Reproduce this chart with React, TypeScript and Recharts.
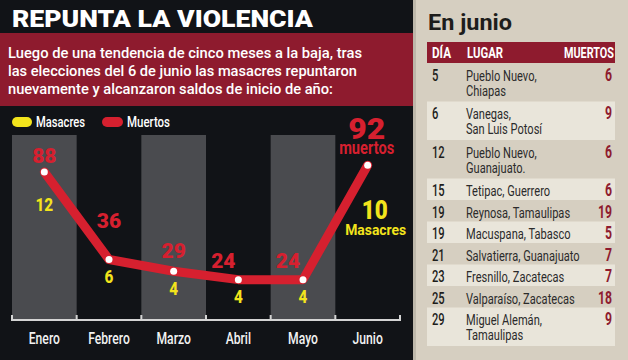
import React from 'react';
import { ComposedChart, Line, XAxis, YAxis, LabelList, ReferenceArea } from 'recharts';

// ---------- data ----------
const months = ['Enero', 'Febrero', 'Marzo', 'Abril', 'Mayo', 'Junio'];
const muertos = [88, 36, 29, 24, 24, 92];
const masacres = [12, 6, 4, 4, 4, 10];
const shadedMonths = ['Enero', 'Marzo', 'Mayo'];
const seriesNames = ['Masacres', 'Muertos'];

const title = 'REPUNTA LA VIOLENCIA';
const introLines = [
  'Luego de una tendencia de cinco meses a la baja, tras',
  'las elecciones del 6 de junio las masacres repuntaron',
  'nuevamente y alcanzaron saldos de inicio de año:',
];

const tableTitle = 'En junio';
const tableHeaders = ['DÍA', 'LUGAR', 'MUERTOS'];
const days = [5, 6, 12, 15, 19, 19, 21, 23, 25, 29];
const places = [
  ['Pueblo Nuevo,', 'Chiapas'],
  ['Vanegas,', 'San Luis Potosí'],
  ['Pueblo Nuevo,', 'Guanajuato.'],
  ['Tetipac, Guerrero'],
  ['Reynosa, Tamaulipas'],
  ['Macuspana, Tabasco'],
  ['Salvatierra, Guanajuato'],
  ['Fresnillo, Zacatecas'],
  ['Valparaíso, Zacatecas'],
  ['Miguel Alemán,', 'Tamaulipas'],
];
const deaths = [6, 9, 6, 6, 19, 5, 7, 7, 18, 9];

const data = months.map((m, i) => ({ month: m, muertos: muertos[i], masacres: masacres[i] }));

// ---------- style / layout ----------
const FONT = 'Roboto, "Open Sans", sans-serif';
const RED = '#d6202f';
const YELLOW = '#f3e41c';
const DARK = '#111317';
const WINE = '#8e1b2e';
const BEIGE = '#d6cfc1';
const LIGHT_ROW = '#e9e5da';

const redDx = [0, 0, 0, -15, -15];
const redDy = [-9, -31, -13, -12, -12];
const yellowDy = [39, 24, 24, 23, 23];

function T({ x, y, sx = 1, anchor = 'start', size = 14, weight = 400, fill = '#fff', children }: any) {
  return (
    <text
      transform={`translate(${x} ${y}) scale(${sx} 1)`}
      textAnchor={anchor}
      fontSize={size}
      fontWeight={weight}
      fill={fill}
      fontFamily={FONT}
    >
      {children}
    </text>
  );
}

function MonthTick(props: any) {
  const { x, y, payload, index } = props;
  const off = payload && payload.offset ? payload.offset : 388 / 12;
  const last = index === months.length - 1;
  return (
    <g>
      <line x1={x - off} x2={x - off} y1={y - 5} y2={y + 1} stroke="#d4d4d4" strokeWidth={2} />
      {last && <line x1={x + off} x2={x + off} y1={y - 5} y2={y + 1} stroke="#d4d4d4" strokeWidth={2} />}
      <T x={x} y={y + 24} sx={0.76} anchor="middle" size={16} weight={500} fill="#f2f2f2">
        {payload.value}
      </T>
    </g>
  );
}

function RedLabel(props: any) {
  const { x, y, value, index } = props;
  if (index === months.length - 1) {
    return (
      <g>
        <text x={x - 1} y={y - 26} textAnchor="middle" fontSize={29} fontWeight={900} fill={RED} fontFamily={FONT} textLength={37} lengthAdjust="spacingAndGlyphs">
          {value}
        </text>
        <text x={x - 1} y={y - 11} textAnchor="middle" fontSize={18} fontWeight={700} fill={RED} fontFamily={FONT} textLength={55} lengthAdjust="spacingAndGlyphs">
          muertos
        </text>
      </g>
    );
  }
  return (
    <text x={x + redDx[index]} y={y + redDy[index]} textAnchor="middle" fontSize={21} fontWeight={900} fill={RED} fontFamily={FONT}>
      {value}
    </text>
  );
}

function YellowLabel(props: any) {
  const { x, y, value, index } = props;
  if (index === months.length - 1) {
    return (
      <g>
        <text x={x + 7} y={y + 54} textAnchor="middle" fontSize={26} fontWeight={900} fill={YELLOW} fontFamily={FONT} textLength={26} lengthAdjust="spacingAndGlyphs">
          {value}
        </text>
        <text x={x + 8} y={y + 70} textAnchor="middle" fontSize={15} fontWeight={700} fill={YELLOW} fontFamily={FONT} textLength={61} lengthAdjust="spacingAndGlyphs">
          Masacres
        </text>
      </g>
    );
  }
  return (
    <T x={x} y={y + yellowDy[index]} sx={0.85} anchor="middle" size={18} weight={800} fill={YELLOW}>
      {value}
    </T>
  );
}

function Background() {
  let top = 63;
  const rows = days.map((d, i) => {
    const lines = places[i];
    const h = lines.length === 2 ? 38.5 : 21.5;
    const y0 = top;
    top += h;
    return (
      <g key={i}>
        {i % 2 === 1 && <rect x={427} y={y0} width={188} height={h} fill={LIGHT_ROW} />}
        <T x={432} y={y0 + 17.5} sx={0.7} size={16} weight={500} fill="#1d1d1b">
          {d}
        </T>
        {lines.map((l, k) => (
          <T key={k} x={466} y={y0 + 17.5 + k * 15} sx={0.74} size={15} weight={400} fill="#2b2b2b">
            {l}
          </T>
        ))}
        <T x={612} y={y0 + 17.5} sx={0.7} anchor="end" size={17.5} weight={700} fill={WINE}>
          {deaths[i]}
        </T>
      </g>
    );
  });

  return (
    <svg width={628} height={360} style={{ position: 'absolute', left: 0, top: 0 }}>
      <rect x={0} y={0} width={628} height={360} fill={BEIGE} />
      <rect x={0} y={0} width={413} height={360} fill={DARK} />
      <rect x={413} y={0} width={3} height={360} fill="#bdb7aa" />
      <rect x={0} y={33} width={413} height={73} fill={WINE} />
      <text x={12} y={27} fontSize={24} fontWeight={900} fill="#fff" fontFamily={FONT} textLength={301} lengthAdjust="spacingAndGlyphs">
        {title}
      </text>
      {introLines.map((l, i) => (
        <text key={i} x={8} y={58 + i * 18} fontSize={15} fontWeight={500} fill="#fff" fontFamily={FONT} textLength={[354, 349, 325][i]} lengthAdjust="spacingAndGlyphs">
          {l}
        </text>
      ))}
      {/* legend */}
      <rect x={12} y={117} width={20} height={10} rx={5} fill={YELLOW} />
      <text x={36} y={127} fontSize={14} fontWeight={500} fill="#fff" fontFamily={FONT} textLength={49} lengthAdjust="spacingAndGlyphs">
        {seriesNames[0]}
      </text>
      <rect x={102} y={117} width={21} height={10} rx={5} fill={RED} />
      <text x={127} y={127} fontSize={14} fontWeight={500} fill="#fff" fontFamily={FONT} textLength={43} lengthAdjust="spacingAndGlyphs">
        {seriesNames[1]}
      </text>
      {/* table */}
      <text x={428} y={30} fontSize={22} fontWeight={700} fill="#1d1d1b" fontFamily={FONT} textLength={84} lengthAdjust="spacingAndGlyphs">
        {tableTitle}
      </text>
      <rect x={427} y={42} width={188} height={21} fill={WINE} />
      <text x={432} y={57.5} fontSize={14} fontWeight={700} fill="#fff" fontFamily={FONT} textLength={19} lengthAdjust="spacingAndGlyphs">
        {tableHeaders[0]}
      </text>
      <text x={467} y={57.5} fontSize={14} fontWeight={700} fill="#fff" fontFamily={FONT} textLength={36} lengthAdjust="spacingAndGlyphs">
        {tableHeaders[1]}
      </text>
      <text x={614} y={57.5} textAnchor="end" fontSize={14} fontWeight={700} fill="#fff" fontFamily={FONT} textLength={50} lengthAdjust="spacingAndGlyphs">
        {tableHeaders[2]}
      </text>
      {rows}
    </svg>
  );
}

export default function App() {
  return (
    <div style={{ position: 'absolute', left: 0, top: 0, width: 628, height: 360, overflow: 'hidden' }}>
      <Background />
      <div style={{ position: 'absolute', left: 0, top: 0 }}>
        <ComposedChart width={413} height={360} data={data} margin={{ top: 135, right: 13, bottom: 0, left: 12 }}>
          <XAxis
            dataKey="month"
            scale="band"
            height={40}
            tickSize={0}
            tickMargin={0}
            tickLine={false}
            axisLine={{ stroke: '#d4d4d4', strokeWidth: 2 }}
            tick={<MonthTick />}
            interval={0}
          />
          <YAxis hide domain={[0, 110]} />
          {shadedMonths.map((m) => (
            <ReferenceArea key={m} x1={m} x2={m} fill="#4a4b4f" fillOpacity={1} stroke="none" ifOverflow="visible" />
          ))}
          <Line
            dataKey="muertos"
            type="linear"
            stroke={RED}
            strokeWidth={9}
            strokeLinejoin="round"
            strokeLinecap="round"
            dot={{ r: 3.5, fill: '#fff', stroke: '#fff', strokeWidth: 0 }}
            activeDot={false}
            isAnimationActive={false}
          >
            <LabelList dataKey="muertos" content={<RedLabel />} />
            <LabelList dataKey="masacres" content={<YellowLabel />} />
          </Line>
        </ComposedChart>
      </div>
    </div>
  );
}
